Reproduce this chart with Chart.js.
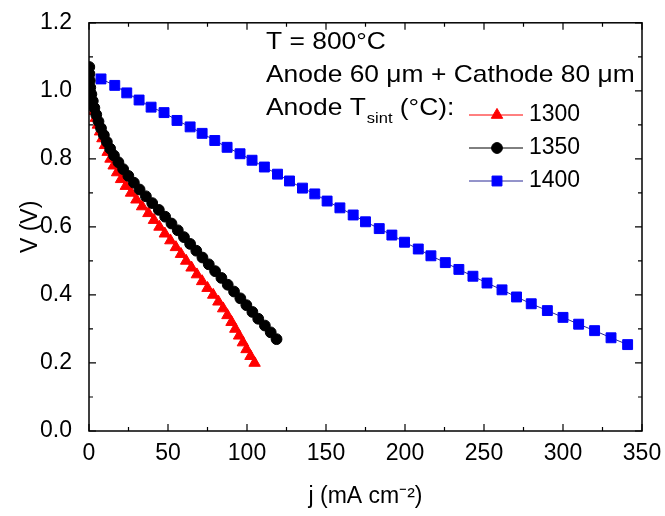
<!DOCTYPE html>
<html>
<head>
<meta charset="utf-8">
<script src="https://cdn.jsdelivr.net/npm/chart.js@4.4.1/dist/chart.umd.min.js"></script>
<style>
  html, body { margin: 0; padding: 0; background: #fff; }
  #wrap { width: 665px; height: 516px; }
</style>
</head>
<body>
<div id="wrap"><canvas id="ivChart" width="665" height="516"></canvas></div>
<script>
// series labels (anode sintering temperature, °C)
const seriesNames = ['1300', '1350', '1400'];

// 1300 °C - red triangles
const j1300 = [0.2, 0.9, 1.9, 3.1, 4.3, 5.6, 7.0, 8.5, 10.1, 11.8, 13.6, 15.6, 17.8, 20.3, 23.3, 26.6,
  30.0, 33.6, 37.6, 41.1, 44.6, 48.0, 51.5, 55.0, 58.2, 61.5, 64.9, 68.3, 71.6, 75.0, 78.6, 81.9,
  84.9, 87.6, 90.2, 92.6, 95.0, 97.4, 99.7, 102.2, 104.8];
const v1300 = [1.00, 0.98, 0.96, 0.94, 0.92, 0.90, 0.88, 0.86, 0.84, 0.82, 0.80, 0.78, 0.76, 0.74, 0.72, 0.70,
  0.68, 0.66, 0.64, 0.62, 0.60, 0.58, 0.56, 0.54, 0.52, 0.50, 0.48, 0.46, 0.44, 0.42, 0.40, 0.38,
  0.36, 0.34, 0.32, 0.30, 0.28, 0.26, 0.24, 0.22, 0.20];

// 1350 °C - black circles
const j1350 = [0.2, 0.3, 0.5, 0.8, 1.5, 2.4, 3.4, 4.6, 6.0, 7.6, 9.4, 11.3, 13.4, 15.8, 18.6, 21.6,
  24.9, 28.4, 32.0, 36.0, 40.0, 44.2, 48.2, 52.2, 56.2, 60.1, 64.0, 67.9, 71.8, 75.8, 79.8, 83.8,
  87.8, 91.8, 95.8, 99.6, 103.4, 107.1, 111.3, 115.0, 118.7];
const v1350 = [1.07, 1.05, 1.03, 1.01, 0.99, 0.97, 0.95, 0.93, 0.91, 0.89, 0.87, 0.85, 0.83, 0.81, 0.79, 0.77,
  0.75, 0.73, 0.71, 0.69, 0.67, 0.65, 0.63, 0.61, 0.59, 0.57, 0.55, 0.53, 0.51, 0.49, 0.47, 0.45,
  0.43, 0.41, 0.39, 0.37, 0.35, 0.33, 0.31, 0.29, 0.27];

// 1400 °C - blue squares
const j1400 = [7.6, 16.3, 23.9, 31.7, 39.3, 47.5, 55.7, 64.0, 71.6, 79.6, 87.4, 95.6, 103.2, 111.0, 119.3, 126.9,
  135.1, 142.9, 150.7, 158.8, 167.2, 175.0, 183.7, 191.7, 199.7, 208.4, 216.4, 225.5, 234.1, 243.0, 251.9, 261.4,
  270.6, 279.9, 290.1, 300.0, 309.9, 320.0, 330.4, 340.9];
const v1400 = [1.035, 1.016, 0.994, 0.973, 0.952, 0.936, 0.913, 0.894, 0.875, 0.854, 0.834, 0.815, 0.796, 0.776, 0.755, 0.735,
  0.714, 0.697, 0.676, 0.656, 0.635, 0.615, 0.595, 0.576, 0.555, 0.535, 0.515, 0.495, 0.475, 0.455, 0.435, 0.415,
  0.394, 0.374, 0.354, 0.334, 0.314, 0.295, 0.274, 0.254];

// axes
const xMin = 0, xMax = 350, xStep = 50;
const yMin = 0, yMax = 1.2, yStep = 0.2;

const FONT = "'Liberation Sans', Arial, sans-serif";

function pairs(xs, ys) {
  return xs.map((x, i) => ({ x: x, y: ys[i] }));
}

const styles = [
  { color: 'rgb(255, 0, 0)', line: 'rgb(255, 0, 0)', point: 'triangle', radius: 6.6 },
  { color: 'rgb(0, 0, 0)', line: 'rgb(0, 0, 0)', point: 'circle', radius: 5.4 },
  { color: 'rgb(0, 0, 255)', line: 'rgb(40, 40, 150)', point: 'rect', radius: 7 }
];

const allData = [pairs(j1300, v1300), pairs(j1350, v1350), pairs(j1400, v1400)];
const drawOrder = [1, 0, 2];   // black goes over red

// text drawn a bit wider than the font, like the original figure
function wideText(ctx, str, x, y, sx) {
  ctx.save();
  ctx.translate(x, y);
  ctx.scale(sx, 1);
  ctx.fillText(str, 0, 0);
  const w = ctx.measureText(str).width * sx;
  ctx.restore();
  return w;
}

// frame with inward ticks, text block and legend
const decor = {
  id: 'decor',
  afterDraw(chart) {
    const ctx = chart.ctx;
    const a = chart.chartArea;
    const xs = chart.scales.x, ys = chart.scales.y;
    ctx.save();
    ctx.strokeStyle = '#000';
    ctx.lineWidth = 1.5;
    ctx.strokeRect(a.left, a.top, a.right - a.left, a.bottom - a.top);

    ctx.lineWidth = 1.2;
    ctx.beginPath();
    const xt = xs.ticks.map(t => t.value);
    const yt = ys.ticks.map(t => t.value);
    function xTick(v, len) {
      const p = xs.getPixelForValue(v);
      ctx.moveTo(p, a.bottom); ctx.lineTo(p, a.bottom - len);
      ctx.moveTo(p, a.top); ctx.lineTo(p, a.top + len);
    }
    function yTick(v, len) {
      const p = ys.getPixelForValue(v);
      ctx.moveTo(a.left, p); ctx.lineTo(a.left + len, p);
      ctx.moveTo(a.right, p); ctx.lineTo(a.right - len, p);
    }
    xt.forEach((v, i) => {
      xTick(v, 7);
      if (i < xt.length - 1) xTick((v + xt[i + 1]) / 2, 4);
    });
    yt.forEach((v, i) => {
      yTick(v, 7);
      if (i < yt.length - 1) yTick((v + yt[i + 1]) / 2, 4);
    });
    ctx.stroke();

    // text block
    ctx.fillStyle = '#000';
    ctx.textBaseline = 'middle';
    ctx.textAlign = 'left';
    const sx = 1.1;
    const tx = 266;
    ctx.font = '24px ' + FONT;
    wideText(ctx, 'T = 800°C', tx, 42, sx);
    wideText(ctx, 'Anode 60 μm + Cathode 80 μm', tx, 75, sx);
    let w = wideText(ctx, 'Anode T', tx, 108, sx);
    ctx.font = '15px ' + FONT;
    const w2 = wideText(ctx, 'sint', tx + w + 1, 119, sx);
    ctx.font = '24px ' + FONT;
    wideText(ctx, ' (°C):', tx + w + w2 + 1, 108, sx);

    // legend
    const legY = [115, 148, 181];
    styles.forEach((st, i) => {
      const y = legY[i];
      ctx.strokeStyle = st.line;
      ctx.lineWidth = 1;
      ctx.beginPath();
      ctx.moveTo(469, y); ctx.lineTo(523, y);
      ctx.stroke();
      ctx.fillStyle = st.color;
      ctx.strokeStyle = st.color;
      Chart.helpers.drawPoint(ctx, { pointStyle: st.point, radius: st.radius, rotation: 0, borderWidth: 1 }, 497, y);
      ctx.fillStyle = '#000';
      ctx.font = '23px ' + FONT;
      ctx.fillText(seriesNames[i], 529, y);
    });
    ctx.restore();
  }
};

const ivChart = new Chart(document.getElementById('ivChart'), {
  type: 'line',
  data: {
    datasets: allData.map((d, i) => ({
      label: seriesNames[i],
      data: d,
      borderColor: styles[i].line,
      backgroundColor: styles[i].color,
      borderWidth: 1,
      pointStyle: styles[i].point,
      pointRadius: styles[i].radius,
      pointBackgroundColor: styles[i].color,
      pointBorderColor: styles[i].color,
      pointBorderWidth: 1,
      fill: false,
      tension: 0,
      order: drawOrder[i]
    }))
  },
  options: {
    responsive: false,
    animation: false,
    devicePixelRatio: 1,
    layout: { padding: { left: 0, top: 21, right: 23, bottom: 0 } },
    plugins: {
      legend: { display: false },
      tooltip: { enabled: false }
    },
    scales: {
      x: {
        type: 'linear',
        min: xMin, max: xMax,
        afterFit: s => { s.height = 85; },
        grid: { display: false },
        border: { display: false },
        ticks: { stepSize: xStep, color: '#000', padding: 1, font: { family: FONT, size: 23 }, maxRotation: 0 },
        title: { display: true, text: 'j (mA cm⁻²)', color: '#000', font: { family: FONT, size: 23 }, padding: { top: 0, bottom: 6 } }
      },
      y: {
        type: 'linear',
        min: yMin, max: yMax,
        afterFit: s => { s.width = 89; },
        grid: { display: false },
        border: { display: false },
        ticks: { stepSize: yStep, color: '#000', padding: 9, font: { family: FONT, size: 23 },
          callback: v => v.toFixed(1) },
        title: { display: true, text: 'V (V)', color: '#000', font: { family: FONT, size: 23 }, padding: { top: 17, bottom: 0 } }
      }
    }
  },
  plugins: [decor]
});
</script>
</body>
</html>
